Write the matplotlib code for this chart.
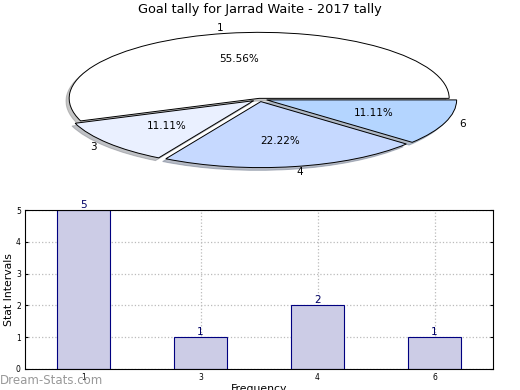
import numpy as np
import matplotlib

matplotlib.use("Agg")
import matplotlib.pyplot as plt

title = "Goal tally for Jarrad Waite - 2017 tally"
categories = ["1", "3", "4", "6"]
counts = [5, 1, 2, 1]
pie_colors = ["#ffffff", "#eaf0ff", "#c6d9ff", "#b4d5ff"]
explode = [0.01, 0.04, 0.04, 0.04]

fig = plt.figure(figsize=(5.2, 3.9), dpi=100, facecolor="white")

# pie, squashed into an ellipse
W, H = 520, 390
ax_pie = fig.add_axes([22 / W, (390 - 99 - 82.5) / H, 475 / W, 165 / H])
wedges, texts, autotexts = ax_pie.pie(
    counts,
    labels=categories,
    colors=pie_colors,
    explode=explode,
    startangle=0,
    autopct="%.2f%%",
    labeldistance=1.08,
    shadow={"ox": -0.012, "oy": -0.03, "shade": 0.45},
    wedgeprops={"edgecolor": "black", "linewidth": 0.7},
    textprops={"fontsize": 7.5},
)
ax_pie.set_aspect("auto")
ax_pie.set_xlim(-1.25, 1.25)
ax_pie.set_ylim(-1.25, 1.25)
ax_pie.axis("off")
fig.text(0.5, 1 - 10 / H, title, ha="center", va="center", fontsize=9.3)

# bar chart
ax = fig.add_axes([25 / W, 21 / H, 468 / W, 159 / H])
x = np.arange(len(categories))
ax.bar(x, counts, width=0.45, color="#cccce6", edgecolor="#000080", linewidth=0.8, zorder=2)
for xi, c in zip(x, counts):
    ax.text(xi, c, str(c), ha="center", va="bottom", fontsize=7.5, color="#000066")
ax.set_xlim(-0.5, len(categories) - 0.5)
ax.set_ylim(0, 5)
ax.set_xticks(x)
ax.set_xticklabels(categories)
ax.set_yticks(range(6))
ax.tick_params(direction="in", right=True, labelsize=5.5, length=2.5, pad=3)
ax.grid(True, color="#bbbbbb", linestyle=":", linewidth=0.9, zorder=0)
ax.set_axisbelow(True)
ax.set_ylabel("Stat Intervals", fontsize=7.8)
ax.yaxis.set_label_coords(-11 / 468, 0.5)
ax.set_xlabel("Frequency", fontsize=7.8, labelpad=1)
for s in ax.spines.values():
    s.set_linewidth(0.8)

fig.text(0, 10 / H, "Dream-Stats.com", ha="left", va="center", fontsize=8.5, color="#999999")

fig.savefig("out.png", dpi=100, facecolor="white")
